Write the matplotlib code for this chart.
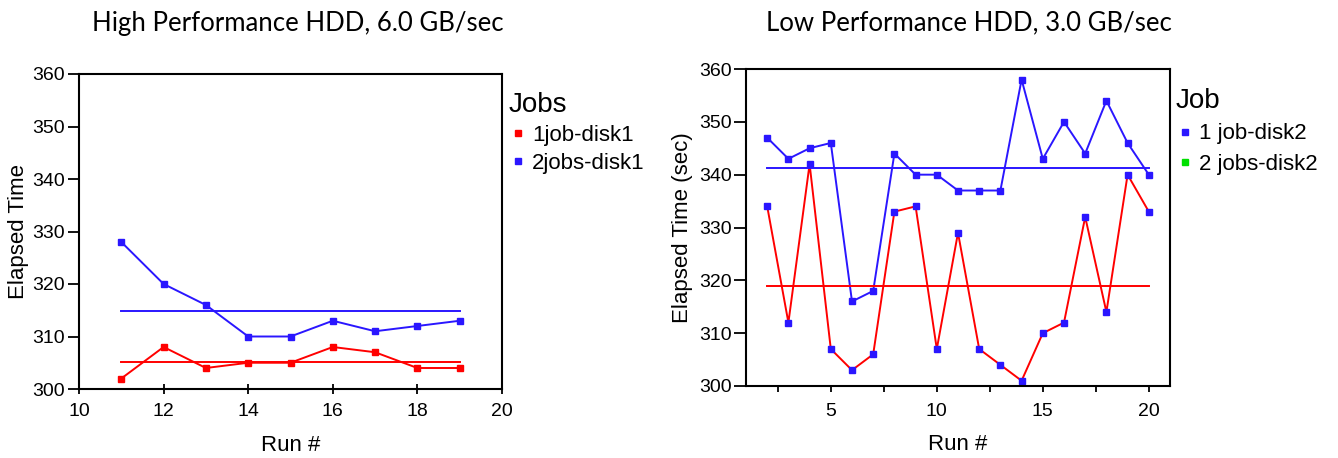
import numpy as np
import matplotlib
matplotlib.use("Agg")
import matplotlib.pyplot as plt
from matplotlib.lines import Line2D
from matplotlib.ticker import MultipleLocator

plt.rcParams['font.family'] = ['Liberation Sans', 'DejaVu Sans']

# ---- data: High Performance HDD ----
hp_runs = [11, 12, 13, 14, 15, 16, 17, 18, 19]
hp_1job = [302, 308, 304, 305, 305, 308, 307, 304, 304]
hp_2jobs = [328, 320, 316, 310, 310, 313, 311, 312, 313]
hp_labels = ["1job-disk1", "2jobs-disk1"]
hp_title = "High Performance HDD, 6.0 GB/sec"

# ---- data: Low Performance HDD ----
lp_runs = list(range(2, 21))
lp_blue = [347, 343, 345, 346, 316, 318, 344, 340, 340, 337, 337, 337,
           358, 343, 350, 344, 354, 346, 340]
lp_red = [334, 312, 342, 307, 303, 306, 333, 334, 307, 329, 307, 304,
          301, 310, 312, 332, 314, 340, 333]
lp_labels = ["1 job-disk2", "2 jobs-disk2"]
lp_title = "Low Performance HDD, 3.0 GB/sec"

RED = "#ff0000"
BLUE = "#2a16ff"
GREEN = "#00e000"

W, H = 1338, 458
fig = plt.figure(figsize=(W / 100, H / 100), dpi=100)

ax1 = fig.add_axes([79 / W, 1 - 389 / H, (502 - 79) / W, (389 - 74) / H])
ax2 = fig.add_axes([746 / W, 1 - 386 / H, (1170 - 746) / W, (386 - 69) / H])

lw = 1.4
ms = 4.5

# left panel
ax1.plot(hp_runs, hp_1job, color=RED, lw=lw, marker='s', ms=ms, mfc=RED, mec=RED)
ax1.plot(hp_runs, hp_2jobs, color=BLUE, lw=lw, marker='s', ms=ms, mfc=BLUE, mec=BLUE)
ax1.plot([hp_runs[0], hp_runs[-1]], [np.mean(hp_1job)] * 2, color=RED, lw=lw)
ax1.plot([hp_runs[0], hp_runs[-1]], [np.mean(hp_2jobs)] * 2, color=BLUE, lw=lw)
ax1.set_xlim(10, 20)
ax1.set_ylim(300, 360)
ax1.xaxis.set_major_locator(MultipleLocator(2))
ax1.yaxis.set_major_locator(MultipleLocator(10))
ax1.tick_params(axis='x', direction='inout', length=7.5, width=1.3, labelsize=14, pad=6)
ax1.tick_params(axis='y', direction='out', length=8, width=1.3, labelsize=14, pad=2)
ax1.set_xlabel("Run #", fontsize=16)
ax1.set_ylabel("Elapsed Time", fontsize=16)
ax1.xaxis.set_label_coords(0.5, (389 - 435) / 315)
ax1.yaxis.set_label_coords((29 - 79) / 423, 0.5)

# right panel
ax2.plot(lp_runs, lp_blue, color=BLUE, lw=lw, marker='s', ms=ms, mfc=BLUE, mec=BLUE)
ax2.plot(lp_runs, lp_red, color=RED, lw=lw, marker='s', ms=ms, mfc=BLUE, mec=BLUE)
ax2.plot([lp_runs[0], lp_runs[-1]], [np.mean(lp_blue)] * 2, color=BLUE, lw=lw)
ax2.plot([lp_runs[0], lp_runs[-1]], [np.mean(lp_red)] * 2, color=RED, lw=lw)
ax2.set_xlim(1, 21)
ax2.set_ylim(300, 360)
ax2.xaxis.set_major_locator(MultipleLocator(5))
ax2.xaxis.set_minor_locator(MultipleLocator(2.5))
ax2.yaxis.set_major_locator(MultipleLocator(10))
ax2.tick_params(axis='x', which='both', direction='out', length=4.5, width=1.3,
                labelsize=14, pad=7.5)
ax2.tick_params(axis='y', direction='out', length=8.6, width=1.3, labelsize=14, pad=1.5)
ax2.set_xlabel("Run #", fontsize=16)
ax2.set_ylabel("Elapsed Time (sec)", fontsize=16)
ax2.xaxis.set_label_coords(0.5, (386 - 434) / 317)
ax2.yaxis.set_label_coords((693 - 746) / 424, 0.5)

for ax in (ax1, ax2):
    for s in ax.spines.values():
        s.set_linewidth(1.5)
        s.set_color("black")

# legends
h1 = [Line2D([], [], ls='none', marker='s', ms=4, color=RED),
      Line2D([], [], ls='none', marker='s', ms=4, color=BLUE)]
leg1 = fig.legend(h1, hp_labels, title="Jobs", loc='upper left',
                  bbox_to_anchor=(509 / W, 1 - 92 / H), frameon=False, fontsize=16,
                  title_fontsize=20, handlelength=0.8, handletextpad=0.25,
                  labelspacing=0.32, borderaxespad=0, borderpad=0)
leg1._legend_box.align = "left"
leg1._legend_box._children[1].sep = 14

h2 = [Line2D([], [], ls='none', marker='s', ms=4, color=BLUE),
      Line2D([], [], ls='none', marker='s', ms=4, color=GREEN)]
leg2 = fig.legend(h2, lp_labels, title="Job", loc='upper left',
                  bbox_to_anchor=(1176 / W, 1 - 88 / H), frameon=False, fontsize=16,
                  title_fontsize=20, handlelength=0.8, handletextpad=0.25,
                  labelspacing=0.42, borderaxespad=0, borderpad=0)
leg2._legend_box.align = "left"

# titles
fig.text(298 / W, 1 - 23 / H, hp_title, ha='center', va='center',
         fontsize=18.5, family=['Lato', 'DejaVu Sans'])
fig.text(969 / W, 1 - 23 / H, lp_title, ha='center', va='center',
         fontsize=18.5, family=['Lato', 'DejaVu Sans'])

fig.savefig("out.png", dpi=100)
